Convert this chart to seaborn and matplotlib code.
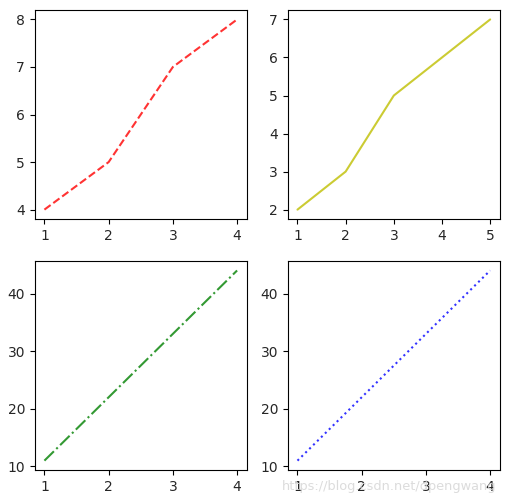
import matplotlib
matplotlib.use("Agg")
import matplotlib.pyplot as plt
import seaborn as sns

sns.set_style("ticks")
plt.rcParams['font.family'] = ['DejaVu Sans']

x1 = [1, 2, 3, 4]
y1 = [4, 5, 7, 8]
x2 = [1, 2, 3, 4, 5]
y2 = [2, 3, 5, 6, 7]
x3 = [1, 2, 3, 4]
y3 = [11, 22, 33, 44]
x4 = [1, 2, 3, 4]
y4 = [11, 22, 33, 44]

fig, axes = plt.subplots(2, 2, figsize=(5.19, 4.97), dpi=100)
plt.subplots_adjust(left=0.067, right=0.963, top=0.98, bottom=0.054,
                    wspace=0.194, hspace=0.2)

sns.lineplot(x=x1, y=y1, ax=axes[0, 0], color='r', linestyle='--', alpha=0.8)
sns.lineplot(x=x2, y=y2, ax=axes[0, 1], color='y', linestyle='-', alpha=0.8)
sns.lineplot(x=x3, y=y3, ax=axes[1, 0], color='g', linestyle='-.', alpha=0.8)
sns.lineplot(x=x4, y=y4, ax=axes[1, 1], color='b', linestyle=':', alpha=0.8)

for ax in axes.flat:
  ax.tick_params(direction='out', length=3.5, color='black', labelsize=10)
  for s in ax.spines.values():
    s.set_color('black')
    s.set_linewidth(0.8)

# csdn watermark
fig.text(0.543, 0.015, "https://blog.csdn.net/dpengwang", color='#d8d8d8',
         fontsize=9.3, alpha=0.9)

plt.savefig("out.png", dpi=100)
